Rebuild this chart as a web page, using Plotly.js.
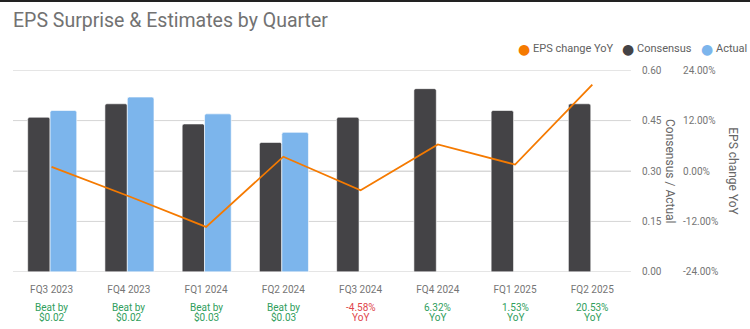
<!DOCTYPE html>
<html>
<head>
<meta charset="utf-8">
<script src="https://cdn.plot.ly/plotly-3.0.1.min.js"></script>
<style>
  html, body { margin: 0; padding: 0; background: #fff; }
  #wrap { width: 750px; height: 327px; border-top: 2px solid #222; }
</style>
</head>
<body>
<div id="wrap"><div id="chart" style="width:750px;height:327px;"></div></div>
<script>
// ---- data ----
const quarters = ['FQ3 2023', 'FQ4 2023', 'FQ1 2024', 'FQ2 2024', 'FQ3 2024', 'FQ4 2024', 'FQ1 2025', 'FQ2 2025'];
const consensus = [0.46, 0.50, 0.44, 0.385, 0.46, 0.545, 0.48, 0.50];
const actual = [0.48, 0.52, 0.47, 0.415, null, null, null, null];
const epsChangeYoY = [1.0, -6.0, -13.3, 3.4, -4.58, 6.32, 1.53, 20.53];
const noteLine1 = ['Beat by', 'Beat by', 'Beat by', 'Beat by', '-4.58%', '6.32%', '1.53%', '20.53%'];
const noteLine2 = ['$0.02', '$0.02', '$0.03', '$0.03', 'YoY', 'YoY', 'YoY', 'YoY'];
const seriesNames = ['EPS change YoY', 'Consensus', 'Actual'];
const leftTicks = [0, 0.15, 0.30, 0.45, 0.60];
const rightTicks = [-24, -12, 0, 12, 24];

// ---- style ----
const C_ORANGE = '#f57a00', C_DARK = '#444346', C_BLUE = '#7cb5ec';
const C_GREEN = '#2f9e5c', C_RED = '#e0474c', C_TEXT = '#757575';
const C_GRID = '#d8d8d8';
const FONT = 'Roboto, "Noto Sans", sans-serif';
const X_DOMAIN = [0, 0.850];

const traces = [
  { type: 'bar', name: seriesNames[1], x: quarters, y: consensus, yaxis: 'y',
    marker: { color: C_DARK, line: { color: '#ffffff', width: 0.6 } },
    offset: -0.31, width: 0.29, showlegend: false, hoverinfo: 'x+y' },
  { type: 'bar', name: seriesNames[2], x: quarters, y: actual, yaxis: 'y',
    marker: { color: C_BLUE, line: { color: '#ffffff', width: 0.6 } },
    offset: -0.02, width: 0.345, showlegend: false, hoverinfo: 'x+y' },
  { type: 'scatter', mode: 'lines', name: seriesNames[0], x: quarters, y: epsChangeYoY, yaxis: 'y2',
    line: { color: C_ORANGE, width: 1.8 }, showlegend: false }
];

const annotations = [];
quarters.forEach((q, i) => {
  const neg = noteLine1[i].trim().startsWith('-');
  const col = neg ? C_RED : C_GREEN;
  annotations.push({ xref: 'x', yref: 'paper', x: q, y: -0.175, yanchor: 'middle', xanchor: 'center',
    text: noteLine1[i], showarrow: false, font: { family: FONT, size: 10, color: col } });
  annotations.push({ xref: 'x', yref: 'paper', x: q, y: -0.225, yanchor: 'middle', xanchor: 'center',
    text: noteLine2[i], showarrow: false, font: { family: FONT, size: 10, color: col } });
});

// legend (drawn as text)
const legendColors = [C_ORANGE, C_DARK, C_BLUE];
const legendX = [0.6925, 0.8355, 0.944];
seriesNames.forEach((n, i) => {
  annotations.push({ xref: 'paper', yref: 'paper', x: legendX[i], y: 1.104, xanchor: 'left', yanchor: 'middle',
    text: '●', showarrow: false, font: { family: 'DejaVu Sans', size: 14, color: legendColors[i] } });
  annotations.push({ xref: 'paper', yref: 'paper', x: legendX[i] + 0.0206, y: 1.104, xanchor: 'left', yanchor: 'middle',
    text: n, showarrow: false, font: { family: FONT, size: 11, color: '#616161' } });
});

// axis titles (rotated to read top-to-bottom)
annotations.push({ xref: 'paper', yref: 'paper', x: 0.9037, y: 0.5, xanchor: 'center', yanchor: 'middle',
  text: 'Consensus / Actual', textangle: 90, showarrow: false, font: { family: FONT, size: 12, color: '#666' } });
annotations.push({ xref: 'paper', yref: 'paper', x: 0.990, y: 0.5, xanchor: 'center', yanchor: 'middle',
  text: 'EPS change YoY', textangle: 90, showarrow: false, font: { family: FONT, size: 12, color: '#666' } });

// horizontal grid lines at the left-axis tick values
const gridShapes = leftTicks.map(v => ({
  type: 'line', xref: 'paper', yref: 'y', x0: X_DOMAIN[0], x1: X_DOMAIN[1], y0: v, y1: v,
  line: { color: C_GRID, width: 1 }, layer: 'below'
}));

const layout = {
  width: 750, height: 327,
  margin: { l: 13, r: 10, t: 68, b: 57 },
  paper_bgcolor: '#fff', plot_bgcolor: 'rgba(0,0,0,0)',
  font: { family: FONT, color: C_TEXT, size: 10 },
  title: { text: 'EPS Surprise & Estimates by Quarter', x: 13 / 750, xref: 'container', xanchor: 'left',
    y: 1 - 18 / 327, yref: 'container', yanchor: 'middle',
    font: { family: FONT, size: 19.5, color: '#727272' } },
  showlegend: false,
  barmode: 'overlay',
  barcornerradius: 2,
  xaxis: { domain: X_DOMAIN, type: 'category',
    showgrid: false, zeroline: false, showline: false, ticks: '', ticklabelstandoff: 10,
    tickfont: { family: FONT, size: 10, color: C_TEXT }, fixedrange: true },
  yaxis: { side: 'right', anchor: 'x', range: [-0.0005, 0.6005], tickmode: 'array', tickvals: leftTicks,
    ticktext: leftTicks.map(v => v.toFixed(2)), showgrid: true, gridcolor: C_GRID, gridwidth: 1,
    zeroline: false, showline: false, ticks: '', ticklabelstandoff: 10,
    tickfont: { family: FONT, size: 10, color: C_TEXT } },
  yaxis2: { overlaying: 'y', side: 'right', anchor: 'free', position: 0.9175, range: [-24.02, 24.02],
    tickmode: 'array', tickvals: rightTicks, ticktext: rightTicks.map(v => v.toFixed(2) + '%'),
    showgrid: false, zeroline: false, showline: false, ticks: '', ticklabelstandoff: 2,
    tickfont: { family: FONT, size: 10, color: C_TEXT } },
  shapes: gridShapes,
  annotations: annotations
};

Plotly.newPlot('chart', traces, layout, { displayModeBar: false, staticPlot: true });
</script>
</body>
</html>
